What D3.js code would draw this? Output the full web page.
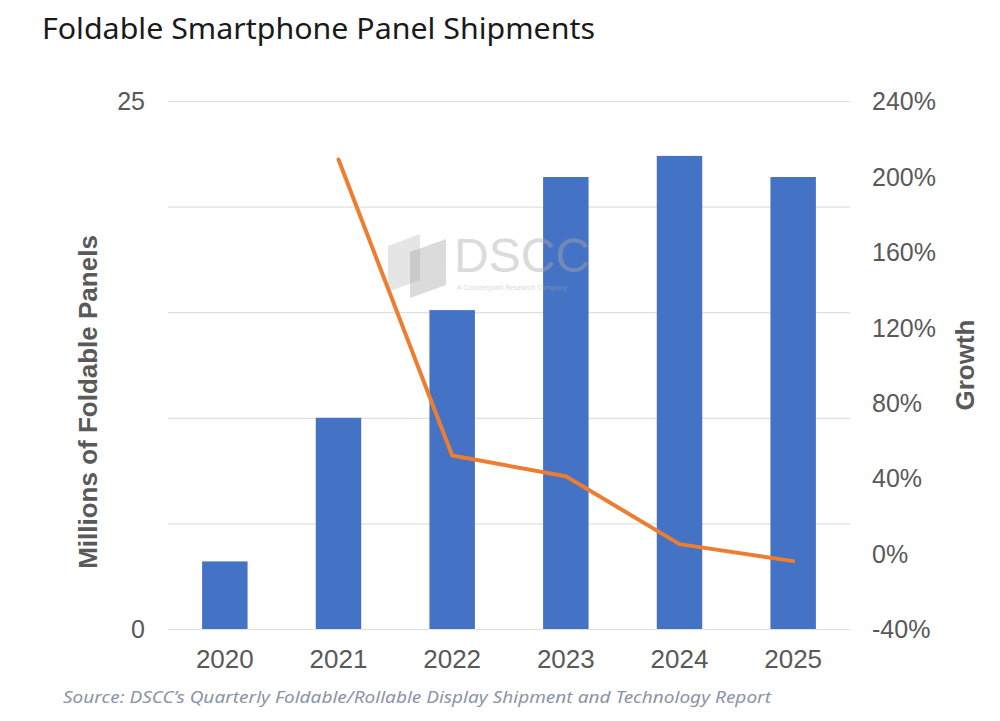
<!DOCTYPE html>
<html><head><meta charset="utf-8">
<script src="https://cdn.jsdelivr.net/npm/d3@7"></script>
<style>body{margin:0;background:#fff;}svg{display:block;}</style>
</head><body>
<script>
const years = ["2020","2021","2022","2023","2024","2025"];
const shipments = [3.2, 10.0, 15.1, 21.4, 22.4, 21.4];
const growthYears = ["2021","2022","2023","2024","2025"];
const growth = [209, 52, 41, 5, -4];
const leftTicks = [0, 25];
const leftGrid = [0, 5, 10, 15, 20, 25];
const rightTicks = [-40, 0, 40, 80, 120, 160, 200, 240];

const W = 1000, H = 721;
const svg = d3.select("body").append("svg").attr("width", W).attr("height", H);

const x0 = 168, x1 = 850, yTop = 101, yBot = 629;
const x = d3.scaleBand().domain(years).range([x0, x1]).paddingInner(0.6).paddingOuter(0.3);
const yL = d3.scaleLinear().domain([0, 25]).range([yBot, yTop]);
const yR = d3.scaleLinear().domain([-40, 240]).range([yBot, yTop]);

// title
svg.append("text").attr("x", 42).attr("y", 39)
  .attr("font-family", "Noto Sans, sans-serif").attr("font-size", 29).attr("fill", "#1a1a1a")
  .attr("textLength", 553).attr("lengthAdjust", "spacingAndGlyphs")
  .text("Foldable Smartphone Panel Shipments");

// gridlines
svg.append("g").selectAll("line").data(leftGrid).join("line")
  .attr("x1", x0).attr("x2", x1)
  .attr("y1", d => yL(d) + 0.5).attr("y2", d => yL(d) + 0.5)
  .attr("stroke", "#e0e0e0").attr("stroke-width", 1.2);

// bars
svg.append("g").selectAll("rect").data(years).join("rect")
  .attr("x", d => x(d)).attr("width", x.bandwidth())
  .attr("y", (d, i) => yL(shipments[i])).attr("height", (d, i) => yBot - yL(shipments[i]))
  .attr("fill", "#4472C4");

// watermark (on top, translucent)
const wm = svg.append("g");
wm.append("path").attr("d", "M388,246 L420,234 L420,280 L388,292 Z").attr("fill", "#aaaaaa").attr("opacity", 0.3);
wm.append("path").attr("d", "M410,252 L446,239 L446,285 L410,298 Z").attr("fill", "#999999").attr("opacity", 0.35);
wm.append("text").attr("x", 454).attr("y", 272)
  .attr("font-family", "Liberation Sans, Arial, sans-serif").attr("font-size", 48).attr("fill", "#aaaaaa").attr("opacity", 0.42)
  .text("DSCC");
wm.append("text").attr("x", 457).attr("y", 290)
  .attr("font-family", "Liberation Sans, Arial, sans-serif").attr("font-size", 7).attr("fill", "#aaaaaa").attr("opacity", 0.45)
  .text("A Counterpoint Research Company");

// line
const line = d3.line().x(d => x(d[0]) + x.bandwidth() / 2).y(d => yR(d[1]));
svg.append("path").datum(growthYears.map((y, i) => [y, growth[i]]))
  .attr("d", line).attr("fill", "none").attr("stroke", "#ED7D31")
  .attr("stroke-width", 4).attr("stroke-linejoin", "round").attr("stroke-linecap", "round");

// left axis
const axL = d3.axisLeft(yL).tickValues(leftTicks).tickSize(0).tickPadding(0);
const gL = svg.append("g").attr("transform", "translate(145,0)").call(axL);
gL.select(".domain").remove();
gL.selectAll("text").attr("font-family", "Liberation Sans, Arial, sans-serif")
  .attr("font-size", 25).attr("fill", "#595959").attr("dy", "0.35em");

// right axis
const axR = d3.axisRight(yR).tickValues(rightTicks).tickSize(0).tickPadding(0).tickFormat(d => d + "%");
const gR = svg.append("g").attr("transform", "translate(872,0)").call(axR);
gR.select(".domain").remove();
gR.selectAll("text").attr("font-family", "Liberation Sans, Arial, sans-serif")
  .attr("font-size", 25).attr("fill", "#595959").attr("dy", "0.35em");

// x axis
const axX = d3.axisBottom(x).tickSize(0).tickPadding(0);
const gX = svg.append("g").attr("transform", "translate(0,650)").call(axX);
gX.select(".domain").remove();
gX.selectAll("text").attr("font-family", "Liberation Sans, Arial, sans-serif")
  .attr("font-size", 26).attr("fill", "#595959").attr("dy", "0.71em");

// axis titles
svg.append("text").attr("transform", "translate(97,402) rotate(-90)").attr("text-anchor", "middle")
  .attr("font-family", "Liberation Sans, Arial, sans-serif").attr("font-weight", "bold")
  .attr("font-size", 26).attr("fill", "#595959").text("Millions of Foldable Panels");
svg.append("text").attr("transform", "translate(974,365) rotate(-90)").attr("text-anchor", "middle")
  .attr("font-family", "Liberation Sans, Arial, sans-serif").attr("font-weight", "bold")
  .attr("font-size", 26).attr("fill", "#595959").text("Growth");

// source
svg.append("text").attr("x", 63).attr("y", 703)
  .attr("font-family", "Noto Sans, sans-serif").attr("font-style", "italic")
  .attr("font-size", 17).attr("fill", "#8a94a6")
  .attr("textLength", 708).attr("lengthAdjust", "spacingAndGlyphs")
  .text("Source: DSCC\u2019s Quarterly Foldable/Rollable Display Shipment and Technology Report");
</script>
</body></html>
